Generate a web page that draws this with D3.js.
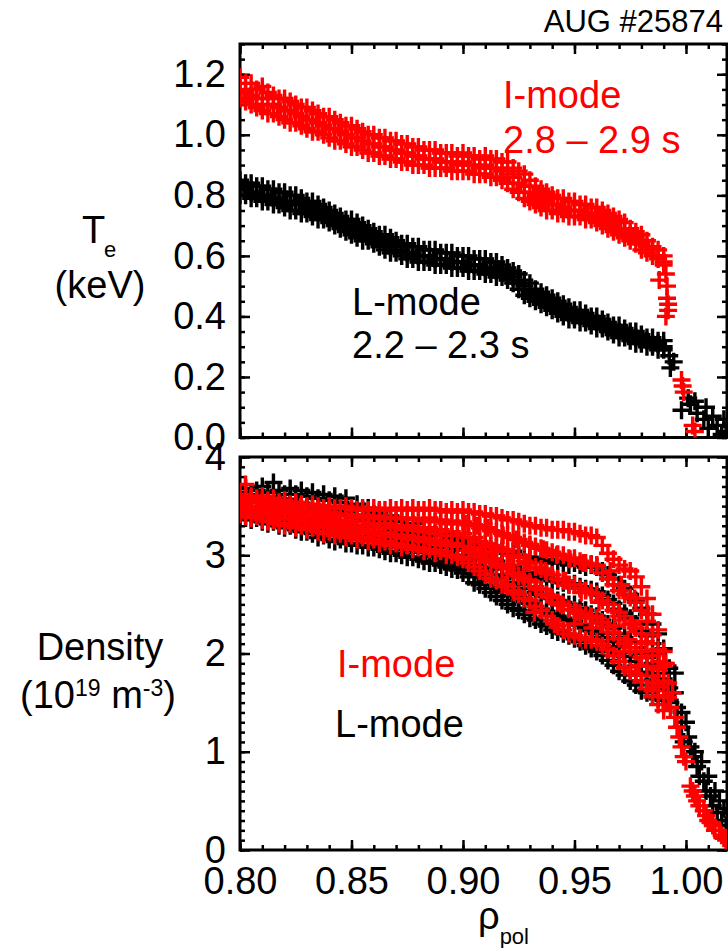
<!DOCTYPE html>
<html>
<head>
<meta charset="utf-8">
<script src="https://cdn.jsdelivr.net/npm/d3@7"></script>
<style>
  body { margin: 0; background: #fff; }
  svg text { font-family: "Liberation Sans", Arial, sans-serif; }
</style>
</head>
<body>
<div id="grafico"></div>
<script>
// --- DATI ---

// canali radiali (rho_pol)
const rho = [.8000,.8025,.8050,.8075,.8100,.8125,.8150,.8175,.8200,.8225,
  .8250,.8275,.8300,.8325,.8350,.8375,.8400,.8425,.8450,.8475,
  .8500,.8525,.8550,.8575,.8600,.8625,.8650,.8675,.8700,.8725,
  .8750,.8775,.8800,.8825,.8850,.8875,.8900,.8925,.8950,.8975,
  .9000,.9025,.9050,.9075,.9100,.9125,.9150,.9175,.9200,.9225,
  .9250,.9275,.9300,.9325,.9350,.9375,.9400,.9425,.9450,.9475,
  .9500,.9525,.9550,.9575,.9600,.9625,.9650,.9675,.9700,.9725,
  .9750,.9775,.9800,.9825,.9850,.9875,.9900];

// Te I-mode (keV): bordo alto, centro, bordo basso della banda
const teImodeHi = [1.19,1.17,1.17,1.15,1.16,1.14,1.13,1.12,1.12,1.11,
  1.10,1.09,1.09,1.08,1.07,1.06,1.06,1.05,1.04,1.03,
  1.03,1.02,1.01,1.00,1.00,0.99,0.99,0.98,0.98,0.97,
  0.97,0.96,0.96,0.95,0.95,0.95,0.94,0.94,0.94,0.93,
  0.94,0.93,0.93,0.92,0.93,0.92,0.92,0.91,0.91,0.89,
  0.88,0.87,0.85,0.83,0.82,0.81,0.80,0.79,0.79,0.78,
  0.78,0.77,0.77,0.76,0.76,0.75,0.74,0.73,0.72,0.71,
  0.69,0.68,0.67,0.65,0.63,0.62,0.60];
const teImodeMid = [1.15,1.14,1.13,1.12,1.12,1.10,1.10,1.09,1.08,1.08,
  1.07,1.06,1.05,1.05,1.04,1.03,1.02,1.02,1.01,1.00,
  0.99,0.99,0.98,0.97,0.97,0.96,0.96,0.95,0.95,0.94,
  0.94,0.93,0.93,0.92,0.92,0.92,0.91,0.91,0.91,0.90,
  0.91,0.90,0.90,0.89,0.90,0.89,0.89,0.88,0.87,0.86,
  0.84,0.83,0.81,0.80,0.79,0.78,0.77,0.77,0.76,0.75,
  0.75,0.75,0.74,0.74,0.73,0.72,0.71,0.70,0.69,0.68,
  0.67,0.66,0.64,0.63,0.62,0.60,0.58];
const teImodeLo = [1.12,1.11,1.10,1.09,1.08,1.07,1.07,1.06,1.05,1.04,
  1.04,1.03,1.02,1.01,1.01,1.00,0.99,0.98,0.98,0.97,
  0.96,0.96,0.95,0.94,0.94,0.93,0.93,0.92,0.92,0.91,
  0.91,0.90,0.90,0.90,0.89,0.89,0.89,0.89,0.88,0.88,
  0.88,0.88,0.87,0.87,0.87,0.86,0.86,0.85,0.84,0.82,
  0.81,0.79,0.78,0.77,0.76,0.75,0.75,0.74,0.74,0.73,
  0.73,0.73,0.72,0.72,0.71,0.70,0.69,0.68,0.67,0.66,
  0.65,0.64,0.62,0.61,0.60,0.59,0.57];
const teImodeEdge = [[.9880,.52],[.9910,.54],[.9915,.50],[.9915,.46],[.9920,.44],[.9920,.42],
  [.9910,.40],[.9980,.19],[.9985,.17],[.9990,.15],[1.0030,.04],[1.0040,.02]];

// Te L-mode (keV)
const teLmodeHi = [.85,.84,.84,.83,.83,.82,.82,.81,.81,.80,
  .80,.79,.78,.78,.77,.76,.75,.74,.73,.72,
  .72,.71,.70,.69,.68,.67,.67,.66,.65,.64,
  .64,.63,.63,.62,.62,.62,.61,.61,.61,.60,
  .60,.60,.59,.59,.59,.58,.58,.57,.56,.55,
  .54,.52,.51,.49,.48,.47,.46,.45,.44,.43,
  .42,.42,.41,.40,.40,.39,.38,.37,.37,.36,
  .35,.35,.34,.33,.33,.32,.32];
const teLmodeMid = [.83,.82,.81,.81,.80,.80,.79,.79,.78,.78,
  .77,.77,.76,.75,.75,.74,.73,.72,.71,.70,
  .69,.69,.68,.67,.66,.65,.64,.63,.63,.62,
  .61,.61,.60,.60,.60,.59,.59,.59,.58,.58,
  .58,.57,.57,.57,.56,.56,.55,.55,.54,.53,
  .51,.50,.48,.47,.46,.45,.44,.43,.42,.41,
  .40,.40,.39,.39,.38,.37,.36,.36,.35,.34,
  .34,.33,.32,.32,.31,.31,.30];
const teLmodeLo = [.80,.80,.79,.79,.78,.78,.77,.77,.76,.75,
  .75,.74,.74,.73,.72,.72,.71,.70,.69,.68,
  .67,.66,.65,.65,.64,.63,.62,.61,.61,.60,
  .59,.59,.58,.58,.58,.57,.57,.57,.56,.56,
  .56,.55,.55,.55,.54,.54,.53,.53,.52,.51,
  .49,.47,.46,.45,.44,.43,.42,.41,.40,.39,
  .39,.38,.38,.37,.36,.36,.35,.34,.33,.33,
  .32,.31,.31,.30,.30,.29,.29];
const teLmodeEdge = [[.9925,.27],[.9930,.23],[.9945,.25],[.9980,.09],[1.0010,.13],[1.0020,.11],
  [1.0040,.12],[1.0050,.08],[1.0080,.06],[1.0090,.10],[1.0100,.03],[1.0120,.07],
  [1.0140,.04],[1.0160,.01],[1.0170,.06],[1.0180,.02]];

// densita' L-mode (10^19 m^-3), cinque livelli dall'alto al basso
const neLmodeHi = [3.64,3.68,3.62,3.66,3.70,3.64,3.74,3.66,3.62,3.68,
  3.62,3.66,3.60,3.64,3.58,3.62,3.56,3.60,3.54,3.58,
  3.50,3.52,3.46,3.48,3.42,3.44,3.38,3.40,3.34,3.36,
  3.30,3.32,3.26,3.28,3.24,3.22,3.20,3.22,3.18,3.16,
  3.14,3.16,3.12,3.10,3.10,3.06,3.08,3.04,3.02,3.04,
  3.00,2.98,2.98,2.96,2.94,2.96,2.92,2.94,2.92,2.90,
  2.92,2.90,2.88,2.90,2.88,2.84,2.80,2.76,2.70,2.66,
  2.60,2.54,2.46,2.40,2.30,2.20,2.05];
const neLmodeUp = [3.58,3.59,3.55,3.60,3.58,3.57,3.59,3.57,3.52,3.57,
  3.53,3.53,3.51,3.51,3.47,3.50,3.45,3.45,3.43,3.43,
  3.40,3.39,3.37,3.36,3.32,3.34,3.28,3.30,3.25,3.26,
  3.22,3.22,3.18,3.20,3.15,3.15,3.12,3.12,3.09,3.07,
  3.05,3.05,3.01,2.99,2.97,2.96,2.94,2.90,2.90,2.88,
  2.85,2.82,2.82,2.79,2.77,2.77,2.74,2.74,2.72,2.70,
  2.71,2.68,2.66,2.65,2.63,2.59,2.55,2.51,2.45,2.41,
  2.36,2.30,2.23,2.18,2.10,2.00,1.90];
const neLmodeMid = [3.52,3.50,3.48,3.54,3.46,3.50,3.44,3.48,3.42,3.46,
  3.44,3.40,3.42,3.38,3.36,3.38,3.34,3.30,3.32,3.28,
  3.30,3.26,3.28,3.24,3.22,3.24,3.18,3.20,3.16,3.16,
  3.14,3.12,3.10,3.12,3.06,3.08,3.04,3.02,3.00,2.98,
  2.96,2.94,2.90,2.88,2.84,2.86,2.80,2.76,2.78,2.72,
  2.70,2.66,2.66,2.62,2.60,2.58,2.56,2.54,2.52,2.50,
  2.50,2.46,2.44,2.40,2.38,2.34,2.30,2.26,2.20,2.16,
  2.12,2.06,2.00,1.96,1.90,1.80,1.74];
const neLmodeDown = [3.46,3.44,3.42,3.46,3.40,3.41,3.39,3.39,3.35,3.38,
  3.35,3.32,3.33,3.30,3.27,3.29,3.25,3.22,3.24,3.20,
  3.21,3.18,3.19,3.16,3.15,3.15,3.11,3.11,3.09,3.08,
  3.06,3.05,3.03,3.03,2.99,3.00,2.97,2.95,2.93,2.92,
  2.89,2.86,2.81,2.79,2.75,2.74,2.69,2.65,2.64,2.59,
  2.57,2.53,2.51,2.48,2.45,2.43,2.40,2.38,2.36,2.34,
  2.33,2.29,2.26,2.23,2.20,2.16,2.12,2.07,2.01,1.97,
  1.92,1.87,1.81,1.78,1.73,1.67,1.63];
const neLmodeLo = [3.40,3.38,3.36,3.38,3.34,3.32,3.34,3.30,3.28,3.30,
  3.26,3.24,3.24,3.22,3.18,3.20,3.16,3.14,3.16,3.12,
  3.12,3.10,3.10,3.08,3.08,3.06,3.04,3.02,3.02,3.00,
  2.98,2.98,2.96,2.94,2.92,2.92,2.90,2.88,2.86,2.85,
  2.82,2.78,2.72,2.70,2.66,2.62,2.58,2.54,2.50,2.46,
  2.44,2.40,2.36,2.34,2.30,2.28,2.24,2.22,2.20,2.18,
  2.15,2.12,2.08,2.05,2.02,1.98,1.93,1.88,1.82,1.78,
  1.72,1.68,1.62,1.60,1.56,1.54,1.52];
const neLmodeEdge = [[.9925,1.85],[.9925,1.65],[.9930,1.50],[.9950,1.80],[.9950,1.60],[.9960,1.45],
  [.9980,1.40],[.9980,1.25],[.9990,1.10],[1.0000,1.30],[1.0010,1.15],[1.0020,1.05],
  [1.0030,0.95],[1.0040,1.00],[1.0050,0.85],[1.0060,0.75],[1.0070,0.90],[1.0080,0.70],
  [1.0090,0.60],[1.0100,0.75],[1.0110,0.55],[1.0120,0.45],[1.0130,0.60],[1.0140,0.38],
  [1.0150,0.50],[1.0160,0.30],[1.0170,0.42],[1.0180,0.25]];

// densita' I-mode (10^19 m^-3)
const neImodeHi = [3.62,3.72,3.60,3.58,3.60,3.56,3.58,3.54,3.56,3.52,
  3.54,3.52,3.50,3.52,3.50,3.48,3.50,3.48,3.48,3.50,
  3.48,3.46,3.48,3.46,3.48,3.46,3.46,3.48,3.46,3.48,
  3.46,3.48,3.46,3.46,3.48,3.46,3.46,3.44,3.46,3.44,
  3.46,3.44,3.44,3.42,3.42,3.40,3.40,3.38,3.36,3.36,
  3.34,3.32,3.30,3.30,3.28,3.28,3.26,3.26,3.26,3.24,
  3.24,3.22,3.20,3.20,3.18,3.10,3.02,2.96,2.90,2.86,
  2.84,2.78,2.68,2.56,2.40,2.24,2.02];
const neImodeUp = [3.58,3.60,3.57,3.54,3.55,3.51,3.53,3.49,3.51,3.47,
  3.49,3.46,3.46,3.45,3.45,3.42,3.44,3.41,3.42,3.41,
  3.41,3.38,3.41,3.38,3.40,3.37,3.39,3.38,3.38,3.37,
  3.38,3.37,3.37,3.35,3.38,3.34,3.36,3.32,3.35,3.32,
  3.34,3.31,3.31,3.28,3.27,3.25,3.24,3.22,3.20,3.18,
  3.16,3.13,3.11,3.09,3.07,3.05,3.03,3.01,3.00,2.97,
  2.97,2.94,2.92,2.91,2.89,2.82,2.76,2.70,2.64,2.60,
  2.57,2.52,2.44,2.33,2.19,2.04,1.87];
const neImodeMid = [3.52,3.50,3.54,3.48,3.50,3.46,3.48,3.44,3.46,3.42,
  3.44,3.40,3.42,3.38,3.40,3.36,3.38,3.34,3.36,3.32,
  3.34,3.30,3.34,3.30,3.32,3.28,3.32,3.28,3.30,3.26,
  3.30,3.26,3.28,3.24,3.28,3.22,3.26,3.20,3.24,3.20,
  3.22,3.18,3.18,3.14,3.12,3.10,3.08,3.06,3.04,3.00,
  2.98,2.94,2.92,2.88,2.86,2.82,2.80,2.76,2.74,2.70,
  2.70,2.66,2.64,2.62,2.60,2.54,2.50,2.44,2.38,2.34,
  2.30,2.26,2.20,2.10,1.98,1.84,1.72];
const neImodeDown = [3.47,3.45,3.46,3.44,3.43,3.40,3.42,3.38,3.38,3.37,
  3.36,3.35,3.34,3.33,3.32,3.29,3.31,3.27,3.29,3.25,
  3.27,3.23,3.26,3.22,3.24,3.20,3.23,3.19,3.21,3.17,
  3.20,3.16,3.18,3.14,3.17,3.12,3.15,3.10,3.12,3.09,
  3.09,3.05,3.03,2.99,2.96,2.93,2.91,2.88,2.86,2.82,
  2.79,2.75,2.73,2.68,2.65,2.60,2.57,2.52,2.49,2.45,
  2.44,2.41,2.39,2.38,2.36,2.31,2.27,2.21,2.15,2.10,
  2.06,2.02,1.96,1.87,1.77,1.66,1.57];
const neImodeLo = [3.42,3.40,3.38,3.40,3.36,3.34,3.36,3.32,3.30,3.32,
  3.28,3.30,3.26,3.28,3.24,3.22,3.24,3.20,3.22,3.18,
  3.20,3.16,3.18,3.14,3.16,3.12,3.14,3.10,3.12,3.08,
  3.10,3.06,3.08,3.04,3.06,3.02,3.04,3.00,3.00,2.98,
  2.96,2.92,2.88,2.84,2.80,2.76,2.74,2.70,2.68,2.64,
  2.60,2.56,2.54,2.48,2.44,2.38,2.34,2.28,2.24,2.20,
  2.18,2.16,2.14,2.14,2.12,2.08,2.04,1.98,1.92,1.86,
  1.82,1.78,1.72,1.64,1.56,1.48,1.42];
// punti sparsi nella zona larga del piedistallo
const neImodeFill = [[.9010,3.32],[.9035,3.08],[.9060,3.30],[.9085,3.02],[.9110,3.28],[.9135,2.96],
  [.9140,3.04],[.9180,3.20],[.9190,2.70],[.9210,2.90],[.9230,2.62],[.9240,3.16],
  [.9270,2.78],[.9290,2.92],[.9300,3.10],[.9320,2.42],[.9330,2.66],[.9360,3.06],
  [.9370,2.84],[.9390,2.58],[.9410,2.30],[.9420,3.00],[.9440,2.50],[.9460,2.74],
  [.9480,2.96],[.9500,2.30],[.9510,2.42],[.9530,2.62],[.9540,2.92],[.9570,2.36],
  [.9580,2.26],[.9600,2.90],[.9610,2.52],[.9620,2.32],[.9650,2.22],[.9660,2.84],
  [.9680,2.28],[.9700,2.42],[.9710,2.70],[.9720,2.02],[.9740,2.14],[.9760,2.30],
  [.9770,2.56],[.9790,1.88],[.9800,2.02],[.9820,2.12],[.9830,2.40],[.9850,1.62],
  [.9860,1.70],[.9880,1.92]];
const neImodeEdge = [[.9910,1.90],[.9920,1.70],[.9920,1.55],[.9930,1.45],[.9940,1.60],[.9950,1.35],
  [.9960,1.25],[.9970,1.15],[.9980,1.05],[.9990,0.95],[1.0000,0.90],[1.0020,0.65],
  [1.0030,0.60],[1.0040,0.55],[1.0050,0.50],[1.0060,0.45],[1.0080,0.40],[1.0090,0.35],
  [1.0100,0.30],[1.0110,0.28],[1.0120,0.25],[1.0130,0.20],[1.0150,0.20],[1.0160,0.15],
  [1.0170,0.12],[1.0180,0.10]];

// tick
const xTicks = [0.80, 0.85, 0.90, 0.95, 1.00];
const teTicks = [0.0, 0.2, 0.4, 0.6, 0.8, 1.0, 1.2];
const neTicks = [0, 1, 2, 3, 4];

// --- IMPOSTAZIONI ---
const width = 728, height = 948;
const left = 240, right = 727;
const top1 = 44, bottom1 = 437.5;
const top2 = 457, bottom2 = 850;
const ROSSO = "#ff0000", NERO = "#000000";
const FONT = 38;

const svg = d3.select("#grafico").append("svg")
  .attr("width", width).attr("height", height);

const x = d3.scaleLinear().domain([0.80, 1.0184]).range([left, right]);
const yTe = d3.scaleLinear().domain([0, 1.3]).range([bottom1, top1]);
const yNe = d3.scaleLinear().domain([0, 4]).range([bottom2, top2]);

// unisce canali e valori in coppie [rho, valore]
function colonne(...serie) {
  const out = [];
  rho.forEach((r, i) => serie.forEach(s => out.push([r, s[i]])));
  return out;
}

const teL = colonne(teLmodeHi, teLmodeMid, teLmodeLo).concat(teLmodeEdge);
const teI = colonne(teImodeHi, teImodeMid, teImodeLo).concat(teImodeEdge);
const neL = colonne(neLmodeHi, neLmodeUp, neLmodeMid, neLmodeDown, neLmodeLo).concat(neLmodeEdge);
const neI = colonne(neImodeHi, neImodeUp, neImodeMid, neImodeDown, neImodeLo)
  .concat(neImodeFill, neImodeEdge);

// --- ASSI E CORNICE ---
function pannello(y, y0, y1, major, minor, fmt, conEtichetteX, id) {
  const g = svg.append("g");

  g.append("clipPath").attr("id", id)
    .append("rect").attr("x", left).attr("y", y1).attr("width", right - left).attr("height", y0 - y1);

  const xMinor = d3.range(0.80, 1.0185, 0.01);

  const stile = sel => {
    sel.select(".domain").remove();
    sel.selectAll(".tick line").attr("stroke", "#000").attr("stroke-width", 2.5);
    sel.selectAll("text").attr("font-size", FONT).attr("fill", "#000")
      .attr("font-family", "'Liberation Sans', Arial, sans-serif");
  };

  // minori
  g.append("g").attr("transform", `translate(0,${y0})`)
    .call(d3.axisBottom(x).tickValues(xMinor).tickSize(-5).tickFormat("")).call(stile);
  g.append("g").attr("transform", `translate(0,${y1})`)
    .call(d3.axisTop(x).tickValues(xMinor).tickSize(-5).tickFormat("")).call(stile);
  g.append("g").attr("transform", `translate(${left},0)`)
    .call(d3.axisLeft(y).tickValues(minor).tickSize(-5).tickFormat("")).call(stile);
  g.append("g").attr("transform", `translate(${right},0)`)
    .call(d3.axisRight(y).tickValues(minor).tickSize(-5).tickFormat("")).call(stile);

  // maggiori
  g.append("g").attr("transform", `translate(0,${y0})`)
    .call(d3.axisBottom(x).tickValues(xTicks).tickSize(-10).tickPadding(17)
      .tickFormat(conEtichetteX ? d3.format(".2f") : "")).call(stile);
  g.append("g").attr("transform", `translate(0,${y1})`)
    .call(d3.axisTop(x).tickValues(xTicks).tickSize(-10).tickFormat("")).call(stile);
  g.append("g").attr("transform", `translate(${left},0)`)
    .call(d3.axisLeft(y).tickValues(major).tickSize(-10).tickPadding(14).tickFormat(fmt)).call(stile);
  g.append("g").attr("transform", `translate(${right},0)`)
    .call(d3.axisRight(y).tickValues(major).tickSize(-10).tickFormat("")).call(stile);

  g.append("rect")
    .attr("x", left).attr("y", y1).attr("width", right - left).attr("height", y0 - y1)
    .attr("fill", "none").attr("stroke", "#000").attr("stroke-width", 3);

  return g;
}

const p1 = pannello(yTe, bottom1, top1, teTicks, d3.range(0, 1.31, 0.05), d3.format(".1f"), false, "clip1");
const p2 = pannello(yNe, bottom2, top2, neTicks, d3.range(0, 4.01, 0.1), d3.format("d"), true, "clip2");

// --- PUNTI (+) ---
const croce = "M-9,0H9M0,-9V9";

function punti(g, dati, y, colore, clip) {
  g.append("g").attr("clip-path", `url(#${clip})`)
    .selectAll("path").data(dati).join("path")
    .attr("d", croce)
    .attr("transform", d => `translate(${x(d[0])},${y(d[1])})`)
    .attr("fill", "none")
    .attr("stroke", colore)
    .attr("stroke-width", 3.4);
}

punti(p1, teL, yTe, NERO, "clip1");
punti(p1, teI, yTe, ROSSO, "clip1");
punti(p2, neL, yNe, NERO, "clip2");
punti(p2, neI, yNe, ROSSO, "clip2");

// --- TESTI ---
function testo(x0, y0, s, colore, anchor, size) {
  return svg.append("text").attr("x", x0).attr("y", y0)
    .attr("font-size", size || FONT).attr("fill", colore)
    .attr("text-anchor", anchor || "start").text(s);
}

testo(723, 32, "AUG #25874", NERO, "end", 31);

// etichetta Te
const te = testo(82, 243, "T", NERO);
te.append("tspan").attr("x", 104).attr("y", 257).attr("font-size", 22).text("e");
testo(100, 298, "(keV)", NERO, "middle");

// etichetta densita'
testo(100, 660, "Density", NERO, "middle");
const den = testo(98, 708, "(10", NERO, "middle");
den.append("tspan").attr("font-size", 23).attr("dy", -12).text("19");
den.append("tspan").attr("dy", 12).text(" m");
den.append("tspan").attr("font-size", 23).attr("dy", -12).text("-3");
den.append("tspan").attr("dy", 12).text(")");

// etichetta asse x
const rp = testo(478, 929, "ρ", NERO);
rp.append("tspan").attr("font-size", 22).attr("dy", 15).text("pol");

// legende
testo(503, 108, "I-mode", ROSSO);
testo(503, 153, "2.8 – 2.9 s", ROSSO);
testo(352, 315, "L-mode", NERO);
testo(352, 358, "2.2 – 2.3 s", NERO);
testo(337, 677, "I-mode", ROSSO);
testo(335, 737, "L-mode", NERO);
</script>
</body>
</html>
